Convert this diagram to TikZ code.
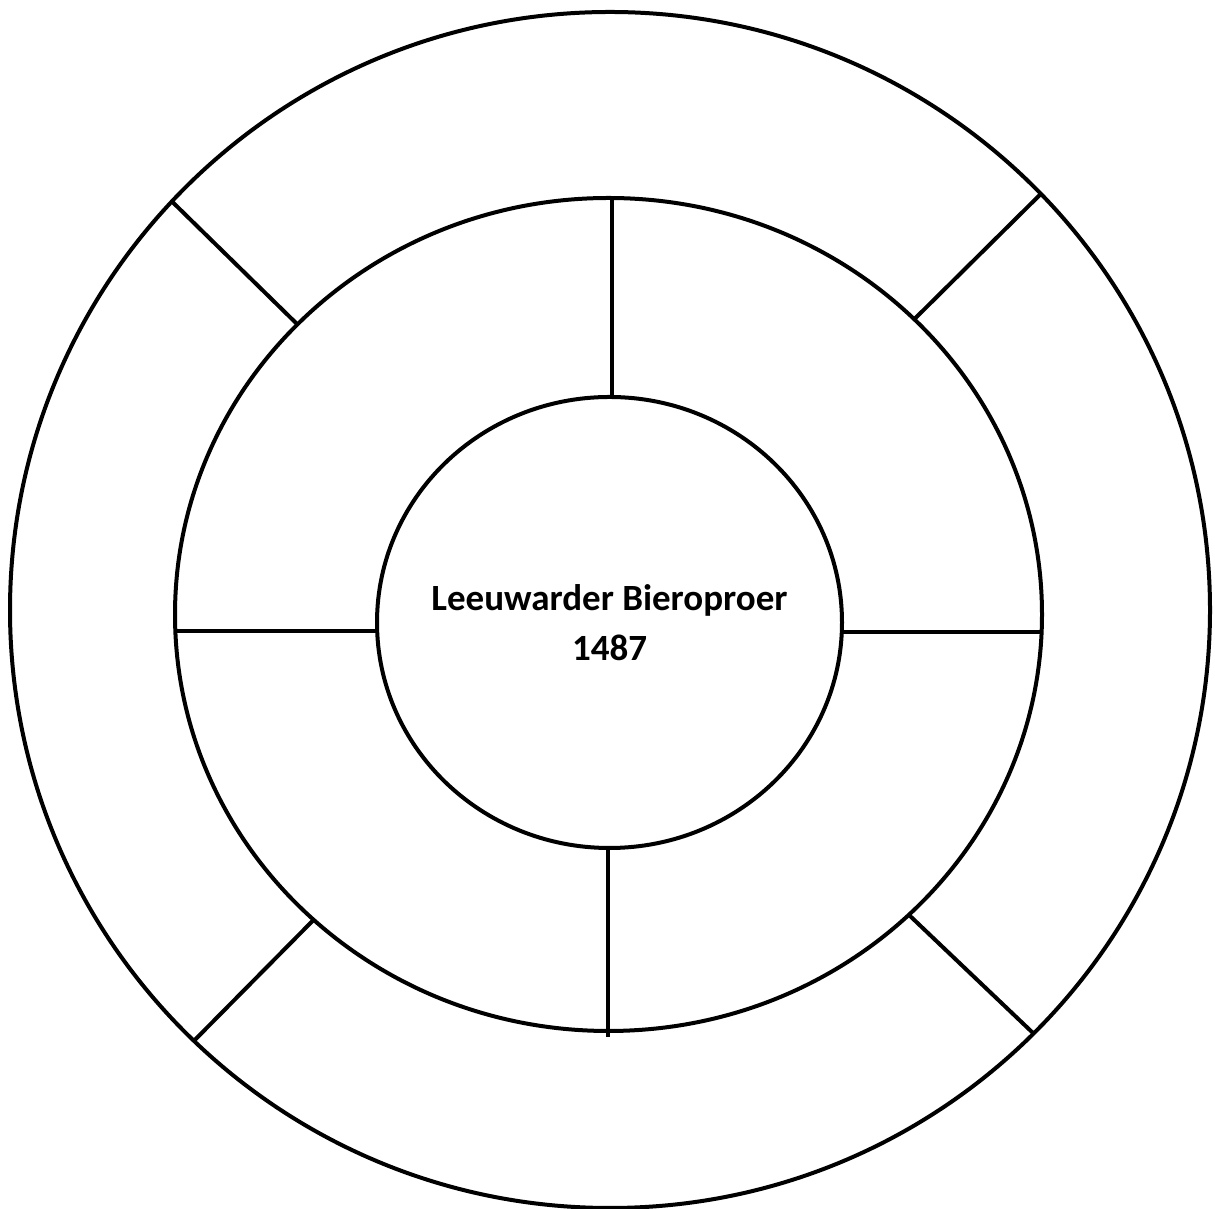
\documentclass[tikz,border=0pt]{standalone}
\usepackage{fontspec}
\setmainfont{Carlito}
\usetikzlibrary{shapes.geometric}
\tikzset{
  ring/.style={draw=black, line width=2pt, ellipse, inner sep=0pt, outer sep=0pt},
  spoke/.style={draw=black, line width=2pt},
  title/.style={align=center, font=\bfseries\fontsize{18.5}{25}\selectfont},
}
\begin{document}
\begin{tikzpicture}[x=0.5pt, y=0.5pt]
  \useasboundingbox (0,0) rectangle (1215,1209);
  \node[ring, minimum width=600pt, minimum height=598pt] (outer) at (610,599) {};
  \node[ring, minimum width=433.5pt, minimum height=416.5pt] (middle) at (608.5,594.5) {};
  \node[ring, minimum width=232.5pt, minimum height=225.5pt] (inner) at (609.5,586.5) {};
  \node[title] (name) at (inner.center) {Leeuwarder Bieroproer\\1487};
  % inner ring to middle ring
  \draw[spoke] ([xshift=1.25pt]inner.north) -- ([xshift=1.75pt]middle.north);
  \draw[spoke, shorten >=-3pt] ([xshift=-0.75pt]inner.south) -- ([xshift=-0.25pt]middle.south);
  \draw[spoke] ([yshift=-4.25pt]inner.west) -- ([yshift=-8.25pt]middle.west);
  \draw[spoke] ([yshift=-4.75pt]inner.east) -- ([yshift=-8.75pt]middle.east);
  % middle ring to outer ring
  \draw[spoke] (middle.137.4) -- (outer.137.5);
  \draw[spoke] (middle.44.2) -- (outer.44);
  \draw[spoke] (middle.226.5) -- (outer.226.3);
  \draw[spoke] (middle.315.8) -- (outer.315.3);
\end{tikzpicture}
\end{document}
